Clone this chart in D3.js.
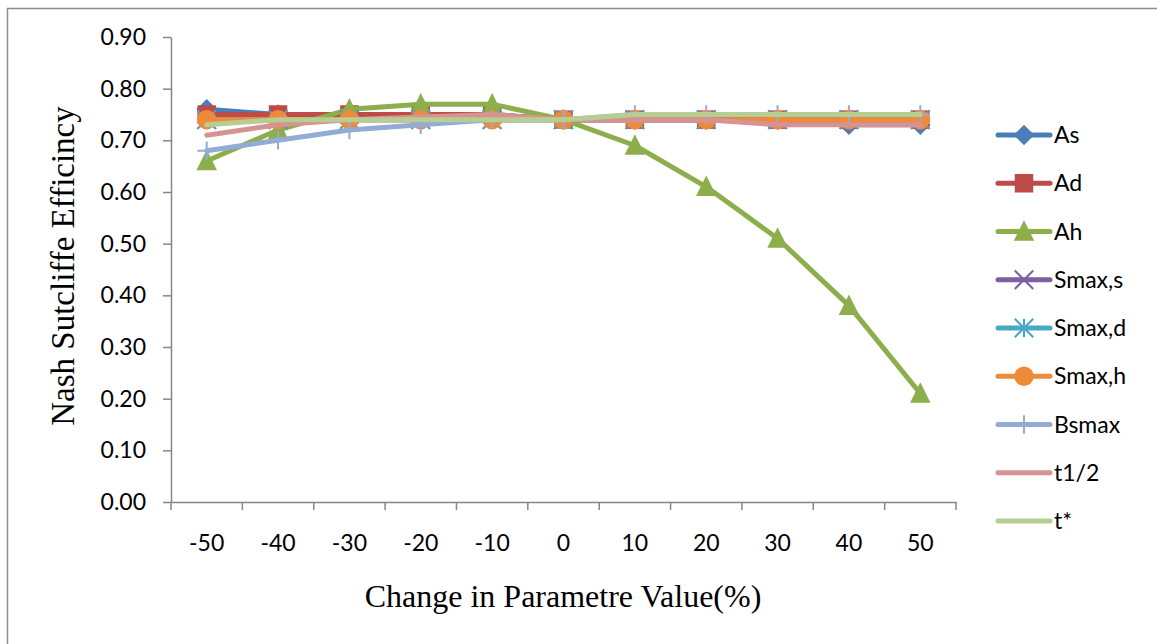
<!DOCTYPE html>
<html>
<head>
<meta charset="utf-8">
<script src="https://cdn.jsdelivr.net/npm/d3@7"></script>
<style>
  html, body { margin: 0; padding: 0; background: #fff; }
  svg { display: block; }
</style>
</head>
<body>
<svg id="chart" width="1157" height="644"></svg>
<script>
// Sensitivity of the Nash–Sutcliffe efficiency to each parameter
const categories = ["-50", "-40", "-30", "-20", "-10", "0", "10", "20", "30", "40", "50"];
const yTicks = [0, 0.1, 0.2, 0.3, 0.4, 0.5, 0.6, 0.7, 0.8, 0.9];

const As     = [0.76, 0.75, 0.75, 0.75, 0.75, 0.74, 0.74, 0.74, 0.74, 0.73, 0.73];
const Ad     = [0.75, 0.75, 0.75, 0.75, 0.75, 0.74, 0.74, 0.74, 0.74, 0.74, 0.74];
const Ah     = [0.66, 0.72, 0.76, 0.77, 0.77, 0.74, 0.69, 0.61, 0.51, 0.38, 0.21];
const SmaxS  = [0.74, 0.74, 0.74, 0.74, 0.74, 0.74, 0.74, 0.74, 0.74, 0.74, 0.74];
const SmaxD  = [0.74, 0.74, 0.74, 0.74, 0.74, 0.74, 0.74, 0.74, 0.74, 0.74, 0.74];
const SmaxH  = [0.74, 0.74, 0.74, 0.74, 0.74, 0.74, 0.74, 0.74, 0.74, 0.74, 0.74];
const Bsmax  = [0.68, 0.70, 0.72, 0.73, 0.74, 0.74, 0.75, 0.75, 0.75, 0.75, 0.75];
const tHalf  = [0.71, 0.73, 0.74, 0.745, 0.75, 0.74, 0.74, 0.74, 0.73, 0.73, 0.73];
const tStar  = [0.73, 0.74, 0.74, 0.74, 0.74, 0.74, 0.75, 0.75, 0.75, 0.75, 0.75];

const seriesNames = ["As", "Ad", "Ah", "Smax,s", "Smax,d", "Smax,h", "Bsmax", "t1/2", "t*"];
const seriesValues = [As, Ad, Ah, SmaxS, SmaxD, SmaxH, Bsmax, tHalf, tStar];
const seriesColors = ["#4A7EBB", "#BE4B48", "#8CAE4B", "#7D60A0", "#46AAC5", "#EE8A3A", "#92ACD6", "#D69392", "#B7CE92"];
const seriesMarkers = ["diamond", "square", "triangle", "x", "asterisk", "circle", "plus", "none", "none"];

const series = seriesNames.map((name, i) => ({
  name, values: seriesValues[i], color: seriesColors[i], marker: seriesMarkers[i]
}));

const svg = d3.select("#chart");
const plotLeft = 171, plotRight = 956, plotTop = 37, plotBottom = 502;

// outer chart frame
svg.append("rect")
  .attr("x", 7.5).attr("y", 8.5)
  .attr("width", 1170).attr("height", 660)
  .attr("fill", "none").attr("stroke", "#8c8c8c").attr("stroke-width", 1.5);

const x = d3.scaleBand().domain(categories).range([plotLeft, plotRight]).padding(0);
const y = d3.scaleLinear().domain([0, 0.9]).range([plotBottom, plotTop]);
const cx = c => x(c) + x.bandwidth() / 2;

const axisColor = "#868686";
const tickFont = "Lato, 'Open Sans', sans-serif";
const tickSize = "23px";
const titleFont = "'Liberation Serif', 'Times New Roman', serif";

// y axis
const yAxis = svg.append("g")
  .attr("transform", `translate(${plotLeft},0)`)
  .call(d3.axisLeft(y).tickValues(yTicks).tickFormat(d3.format(".2f")).tickSize(8).tickPadding(17).tickSizeOuter(0));
yAxis.select(".domain").attr("stroke", axisColor).attr("stroke-width", 1.5);
yAxis.selectAll(".tick line").attr("stroke", axisColor).attr("stroke-width", 1.5);
yAxis.selectAll(".tick text").attr("fill", "#000").style("font-family", tickFont).style("font-size", tickSize);

// x axis: labels centred in categories, ticks on category boundaries
const xAxis = svg.append("g")
  .attr("transform", `translate(0,${plotBottom})`)
  .call(d3.axisBottom(x).tickSize(0).tickPadding(33).tickSizeOuter(0));
xAxis.select(".domain").attr("stroke", axisColor).attr("stroke-width", 1.5);
xAxis.selectAll(".tick text").attr("fill", "#000").style("font-family", tickFont).style("font-size", tickSize);

const boundaries = categories.map(c => x(c)).concat([x.range()[1]]);
xAxis.selectAll("line.boundary")
  .data(boundaries)
  .join("line")
  .attr("class", "boundary")
  .attr("x1", d => d).attr("x2", d => d)
  .attr("y1", 0).attr("y2", 8)
  .attr("stroke", axisColor).attr("stroke-width", 1.5);

// axis titles
svg.append("text")
  .attr("x", 563).attr("y", 607)
  .attr("text-anchor", "middle")
  .style("font-family", titleFont)
  .style("font-size", "32px")
  .text("Change in Parametre Value(%)");

svg.append("text")
  .attr("transform", "translate(74,266) rotate(-90)")
  .attr("text-anchor", "middle")
  .style("font-family", titleFont)
  .style("font-size", "33px")
  .text("Nash Sutcliffe Efficincy");

// marker drawing
const MS = 18.5;
function drawMarker(g, type, color) {
  const h = MS / 2;
  switch (type) {
    case "diamond":
      g.append("path").attr("d", `M0,${-h - 1}L${h + 1},0L0,${h + 1}L${-h - 1},0Z`).attr("fill", color);
      break;
    case "square":
      g.append("rect").attr("x", -h).attr("y", -h).attr("width", MS).attr("height", MS).attr("fill", color);
      break;
    case "triangle":
      g.append("path").attr("d", `M0,${-h - 2}L${h + 1},${h}L${-h - 1},${h}Z`).attr("fill", color);
      break;
    case "circle":
      g.append("circle").attr("r", h + 0.5).attr("fill", color);
      break;
    case "x":
      g.append("path").attr("d", `M${-h},${-h}L${h},${h}M${-h},${h}L${h},${-h}`)
        .attr("stroke", color).attr("stroke-width", 2).attr("fill", "none");
      break;
    case "asterisk":
      g.append("path").attr("d", `M${-h},${-h}L${h},${h}M${-h},${h}L${h},${-h}M0,${-h}L0,${h}`)
        .attr("stroke", color).attr("stroke-width", 2).attr("fill", "none");
      break;
    case "plus":
      g.append("path").attr("d", `M0,${-h}L0,${h}M${-h},0L${h},0`)
        .attr("stroke", color).attr("stroke-width", 2).attr("fill", "none");
      break;
  }
}

const line = d3.line()
  .x((d, i) => cx(categories[i]))
  .y(d => y(d));

// series, drawn in order so later ones sit on top
const plot = svg.append("g");
series.forEach(s => {
  const g = plot.append("g");
  g.append("path")
    .datum(s.values)
    .attr("d", line)
    .attr("fill", "none")
    .attr("stroke", s.color)
    .attr("stroke-width", 5)
    .attr("stroke-linecap", "round")
    .attr("stroke-linejoin", "round");
  if (s.marker !== "none") {
    s.values.forEach((v, i) => {
      const m = g.append("g").attr("transform", `translate(${cx(categories[i])},${y(v)})`);
      drawMarker(m, s.marker, s.color);
    });
  }
});

// legend
const legend = svg.append("g");
series.forEach((s, i) => {
  const ly = 135 + i * 48.25;
  const g = legend.append("g").attr("transform", `translate(0,${ly})`);
  g.append("line")
    .attr("x1", 998).attr("x2", 1050)
    .attr("y1", 0).attr("y2", 0)
    .attr("stroke", s.color).attr("stroke-width", 5).attr("stroke-linecap", "round");
  if (s.marker !== "none") {
    const m = g.append("g").attr("transform", "translate(1024,0)");
    drawMarker(m, s.marker, s.color);
  }
  g.append("text")
    .attr("x", 1054).attr("y", 0).attr("dy", "0.35em")
    .style("font-family", tickFont).style("font-size", tickSize)
    .text(s.name);
});
</script>
</body>
</html>
